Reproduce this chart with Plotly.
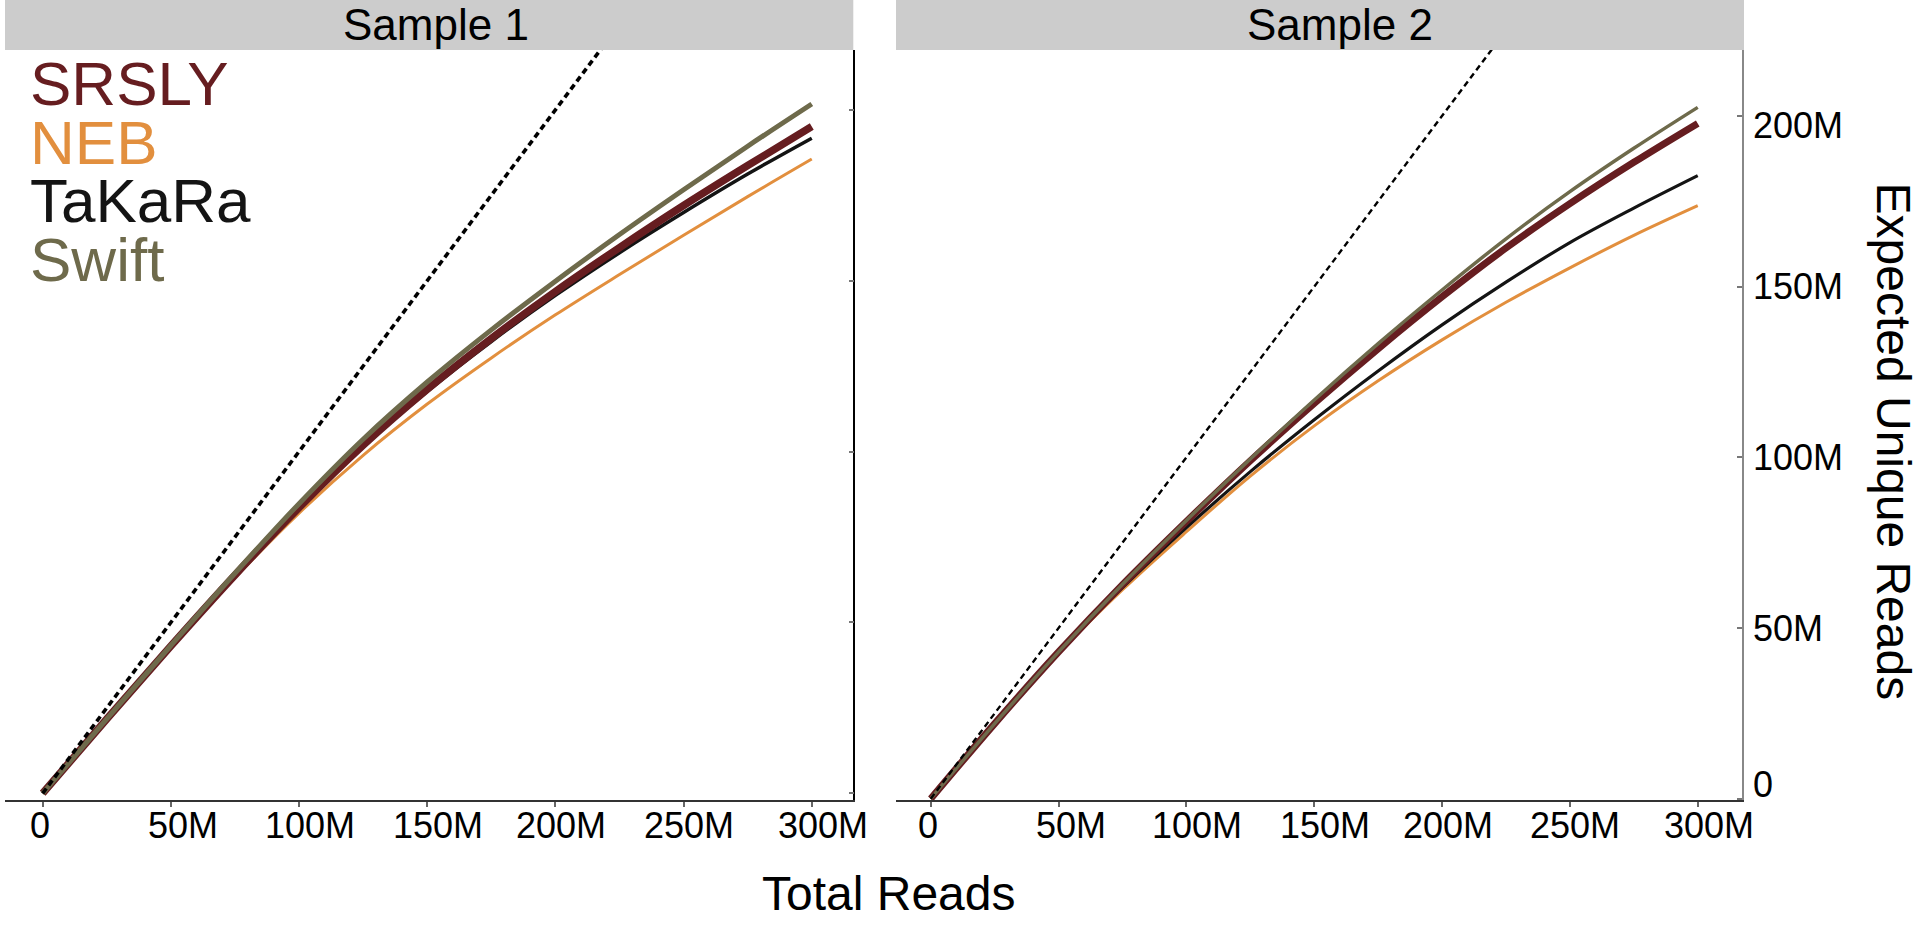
import plotly.graph_objects as go

reads_m = [0, 25, 50, 75, 100, 125, 150, 175, 200, 225, 250, 275, 300]
tick_m = [0, 50, 100, 150, 200, 250, 300]
x_ticktext = ["0", "50M", "100M", "150M", "200M", "250M", "300M"]
y_tick_m = [0, 50, 100, 150, 200]
y_ticktext = ["0", "50M", "100M", "150M", "200M"]

panels = ["Sample 1", "Sample 2"]
kits = ["NEB", "TaKaRa", "SRSLY", "Swift"]  # drawing order, Swift on top
legend_order = ["SRSLY", "NEB", "TaKaRa", "Swift"]

# expected unique reads (millions)
srsly_s1 = [0, 21.75, 43.1, 63.85, 83.6, 101.85, 118.2, 133.1, 146.85, 159.7, 172.0, 183.7, 195.1]
neb_s1 = [0, 21.75, 42.9, 63.1, 82.0, 98.9, 113.9, 127.4, 140.0, 151.8, 163.3, 174.6, 185.6]
takara_s1 = [0, 21.75, 43.1, 63.85, 83.5, 101.5, 117.6, 132.2, 145.7, 158.2, 169.95, 181.2, 191.7]
swift_s1 = [0, 21.75, 43.25, 64.4, 84.75, 103.6, 120.35, 135.6, 149.85, 163.5, 176.6, 189.35, 201.7]

srsly_s2 = [0, 22.0, 43.0, 62.7, 81.2, 99.0, 115.8, 131.8, 147.0, 161.3, 174.3, 186.4, 197.8]
neb_s2 = [0, 22.0, 42.6, 61.2, 78.2, 94.5, 109.2, 122.4, 134.4, 145.4, 155.5, 165.0, 173.7]
takara_s2 = [0, 22.0, 42.8, 61.8, 79.4, 95.8, 111.0, 125.3, 138.8, 151.3, 162.9, 173.0, 182.5]
swift_s2 = [0, 22.0, 43.0, 62.8, 81.5, 99.5, 116.8, 133.3, 149.0, 164.0, 177.8, 190.5, 202.5]

# reference line: every read unique
ideal_m = [0, 300]

curves = {
    "Sample 1": {"SRSLY": srsly_s1, "NEB": neb_s1, "TaKaRa": takara_s1, "Swift": swift_s1},
    "Sample 2": {"SRSLY": srsly_s2, "NEB": neb_s2, "TaKaRa": takara_s2, "Swift": swift_s2},
}

colors = {"SRSLY": "#661D20", "NEB": "#E28F3E", "TaKaRa": "#141414", "Swift": "#6E6A4B"}
widths = {
    "Sample 1": {"SRSLY": 7.5, "NEB": 3, "TaKaRa": 3.5, "Swift": 5},
    "Sample 2": {"SRSLY": 7, "NEB": 3, "TaKaRa": 3.2, "Swift": 3.5},
}
dash_style = {"Sample 1": (3.6, "6px,4px"), "Sample 2": (2.4, "6px,4px")}
# tick labels in the original do not sit exactly on their ticks
x_label_shift = [-3, 12, 11, 11, 6, 5, 11]
y_label_shift = [14, 0, 0, 0, -10]

FONT = "Liberation Sans, Arial, Helvetica, sans-serif"
M = 1e6

fig = go.Figure()

for i, panel in enumerate(panels):
    xa = "x" if i == 0 else "x2"
    ya = "y" if i == 0 else "y2"
    for kit in kits:
        fig.add_trace(go.Scatter(
            x=[r * M for r in reads_m], y=[v * M for v in curves[panel][kit]],
            mode="lines", name=kit, xaxis=xa, yaxis=ya, showlegend=False,
            line=dict(color=colors[kit], width=widths[panel][kit], shape="spline", smoothing=1),
        ))
    w, d = dash_style[panel]
    fig.add_trace(go.Scatter(
        x=[r * M for r in ideal_m], y=[r * M for r in ideal_m],
        mode="lines", xaxis=xa, yaxis=ya, showlegend=False,
        line=dict(color="black", width=w, dash=d),
    ))

# panel geometry (paper fractions of the 1920x936 page)
x_dom = [[5 / 1920, 853.3 / 1920], [896 / 1920, 1741.7 / 1920]]
y_dom = [1 - 800 / 936, 1 - 50 / 936]

xcommon = dict(
    tickvals=[t * M for t in tick_m], ticktext=x_ticktext, showticklabels=False,
    ticks="outside", ticklen=5, tickwidth=1.5, tickcolor="#666666",
    showline=True, linecolor="#333333", linewidth=1.5,
    showgrid=False, zeroline=False,
)
ycommon = dict(
    tickvals=[t * M for t in y_tick_m], ticktext=y_ticktext, showticklabels=False,
    side="right", ticks="inside", ticklen=5, tickwidth=1.5, tickcolor="#777777",
    showline=True, linewidth=1.5,
    showgrid=False, zeroline=False,
)

fig.update_layout(
    width=1920, height=936,
    margin=dict(l=0, r=0, t=0, b=0),
    paper_bgcolor="white", plot_bgcolor="white",
    xaxis=dict(xcommon, domain=x_dom[0], range=[-14.7 * M, 316.2 * M], anchor="y"),
    xaxis2=dict(xcommon, domain=x_dom[1], range=[-13.6 * M, 317.2 * M], anchor="y2"),
    yaxis=dict(ycommon, domain=y_dom, range=[-1.96 * M, 217.5 * M], anchor="x",
               linecolor="black"),
    yaxis2=dict(ycommon, domain=y_dom, range=[-0.38 * M, 219.3 * M], anchor="x2",
                linecolor="#888888"),
)

# x tick labels of both panels, placed on each panel's x scale
for xa in ["x", "x2"]:
    for val, lab, shift in zip(tick_m, x_ticktext, x_label_shift):
        fig.add_annotation(text=lab, xref=xa, yref="paper", x=val * M, y=1 - 825.3 / 936,
                           xanchor="center", yanchor="middle", xshift=shift, showarrow=False,
                           font=dict(family=FONT, size=36, color="black"))

# y tick labels of the right panel, placed on its own y scale
for val, lab, shift in zip(y_tick_m, y_ticktext, y_label_shift):
    fig.add_annotation(text=lab, xref="paper", yref="y2", x=1751 / 1920, y=val * M,
                       xanchor="left", yanchor="middle", yshift=shift, showarrow=False,
                       font=dict(family=FONT, size=36, color="black"))

# facet strips
strip_right = [853.3 / 1920, 1744 / 1920]
strip_text_x = [436 / 1920, 1339.5 / 1920]
for i, panel in enumerate(panels):
    fig.add_shape(type="rect", xref="paper", yref="paper",
                  x0=x_dom[i][0], x1=strip_right[i], y0=y_dom[1], y1=1,
                  fillcolor="#CCCCCC", line=dict(width=0), layer="below")
    fig.add_annotation(text=panel, xref="paper", yref="paper",
                       x=strip_text_x[i], y=1 - 24 / 936, xanchor="center", yanchor="middle",
                       showarrow=False, font=dict(family=FONT, size=44, color="black"))

# coloured text legend in the first panel, one block with tight line pitch
# (line pitch = 1.3 x base font size = 58.5px, glyphs drawn at 62px)
legend_lines = [
    "<span style='font-size:62px;color:%s'>%s</span>" % (colors[k], k) for k in legend_order
]
fig.add_annotation(text="<br>".join(legend_lines), xref="paper", yref="paper",
                   x=28 / 1920, y=1 - 171.5 / 936, xanchor="left", yanchor="middle",
                   align="left", showarrow=False, font=dict(family=FONT, size=45, color="black"))

# axis titles
fig.add_annotation(text="Total Reads", xref="paper", yref="paper",
                   x=888 / 1920, y=1 - 893 / 936, xanchor="center", yanchor="middle",
                   showarrow=False, font=dict(family=FONT, size=48, color="black"))
fig.add_annotation(text="Expected Unique Reads", xref="paper", yref="paper",
                   x=1893.5 / 1920, y=1 - 441 / 936, xanchor="center", yanchor="middle",
                   textangle=90, showarrow=False, font=dict(family=FONT, size=48, color="black"))

fig.write_html("out.html", config={"displayModeBar": False},
               post_script="document.body.style.margin='0px';document.body.style.overflow='hidden';")
